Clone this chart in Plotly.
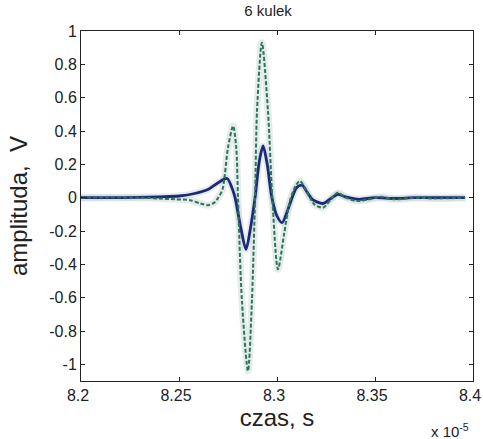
import plotly.graph_objects as go

# time in units of 1e-5 s
t_dash = [8.200, 8.215, 8.230, 8.240, 8.248, 8.2556, 8.2610, 8.2648, 8.2680, 8.2700,
          8.2722, 8.2750, 8.2776, 8.2792, 8.2801, 8.2821, 8.2852, 8.2872, 8.2888,
          8.2898, 8.2923, 8.2954, 8.2976, 8.3005, 8.3036, 8.3066, 8.3095, 8.3117,
          8.3150, 8.3190, 8.3235, 8.3275, 8.3310, 8.3350, 8.3410, 8.3470, 8.3530,
          8.3600, 8.3700, 8.3800, 8.3960]
v_dash = [0.000, 0.003, 0.000, -0.005, -0.010, -0.015, -0.035, -0.045, -0.030, 0.000,
          0.050, 0.300, 0.430, 0.300, 0.000, -0.620, -1.040, -0.620, 0.000,
          0.520, 0.930, 0.520, 0.000, -0.430, -0.220, -0.020, 0.070, 0.100,
          0.040, -0.040, -0.060, -0.010, 0.030, 0.000, -0.020, -0.010, 0.005,
          -0.010, 0.000, -0.005, 0.000]

t_solid = [8.200, 8.220, 8.240, 8.250, 8.258, 8.265, 8.270, 8.2745, 8.2770, 8.2786,
           8.2815, 8.2842, 8.2865, 8.2888, 8.2910, 8.2929, 8.2950, 8.2974, 8.3000,
           8.3026, 8.3050, 8.3077, 8.3100, 8.3128, 8.3155, 8.3180, 8.3235, 8.3275,
           8.3310, 8.3350, 8.3420, 8.3500, 8.3600, 8.3700, 8.3800, 8.3960]
v_solid = [0.000, 0.000, 0.005, 0.010, 0.025, 0.050, 0.090, 0.115, 0.060, 0.000,
           -0.180, -0.310, -0.180, 0.000, 0.220, 0.310, 0.200, 0.000, -0.110,
           -0.150, -0.090, 0.000, 0.060, 0.075, 0.030, -0.010, -0.035, -0.005,
           0.020, 0.005, -0.010, 0.000, -0.005, 0.000, 0.000, 0.000]

x_ticks = [8.2, 8.25, 8.3, 8.35, 8.4]
x_tick_text = ["8.2", "8.25", "8.3", "8.35", "8.4"]
y_ticks = [-1, -0.8, -0.6, -0.4, -0.2, 0, 0.2, 0.4, 0.6, 0.8, 1]
y_tick_text = ["-1", "-0.8", "-0.6", "-0.4", "-0.2", "0", "0.2", "0.4", "0.6", "0.8", "1"]

FONT = "Liberation Sans, Arial, sans-serif"
halo = "rgba(200,210,210,0.45)"

fig = go.Figure()
fig.add_trace(go.Scatter(x=t_dash, y=v_dash, mode="lines",
                         line=dict(color=halo, width=7, shape="spline", smoothing=0.8),
                         hoverinfo="skip", showlegend=False))
fig.add_trace(go.Scatter(x=t_solid, y=v_solid, mode="lines",
                         line=dict(color=halo, width=7, shape="spline", smoothing=0.8),
                         hoverinfo="skip", showlegend=False))
fig.add_trace(go.Scatter(x=t_solid, y=v_solid, mode="lines",
                         line=dict(color="#1c2a78", width=2.8, shape="spline", smoothing=0.8),
                         showlegend=False))
fig.add_trace(go.Scatter(x=t_dash, y=v_dash, mode="lines",
                         line=dict(color="#2a7658", width=2, dash="4px,2px",
                                   shape="spline", smoothing=0.8),
                         showlegend=False))

axis_common = dict(showgrid=False, zeroline=False, showline=True, linecolor="#222222",
                   linewidth=1, mirror="ticks", ticks="inside", ticklen=4,
                   tickcolor="#222222", automargin=False, ticklabeloverflow="allow")

fig.update_xaxes(range=[8.2, 8.4], tickvals=x_ticks, ticktext=x_tick_text,
                 ticklabelshift=-3,
                 tickfont=dict(family=FONT, size=16, color="#222222"),
                 title=dict(text="czas, s", font=dict(family=FONT, size=24, color="#222222"),
                            standoff=3),
                 **axis_common)
fig.update_yaxes(range=[-1.1, 1.0], tickvals=y_ticks, ticktext=y_tick_text,
                 tickfont=dict(family=FONT, size=16, color="#222222"),
                 title=dict(text="amplituda,  V", font=dict(family=FONT, size=24, color="#222222"),
                            standoff=14),
                 **axis_common)

fig.update_layout(
    width=483, height=439,
    margin=dict(l=81, r=10, t=31, b=58, autoexpand=False),
    paper_bgcolor="white", plot_bgcolor="white",
    title=dict(text="6 kulek", x=0.555, xanchor="center", y=0.975, yanchor="middle",
               font=dict(family=FONT, size=15, color="#222222")),
    annotations=[dict(text="x 10<sup>-5</sup>", xref="paper", yref="paper",
                      x=0.995, y=-0.14, xanchor="right", yanchor="middle", showarrow=False,
                      font=dict(family=FONT, size=15, color="#222222"))],
)

fig.write_html("out.html", post_script="document.body.style.margin='0';",
               config={"displayModeBar": False})
